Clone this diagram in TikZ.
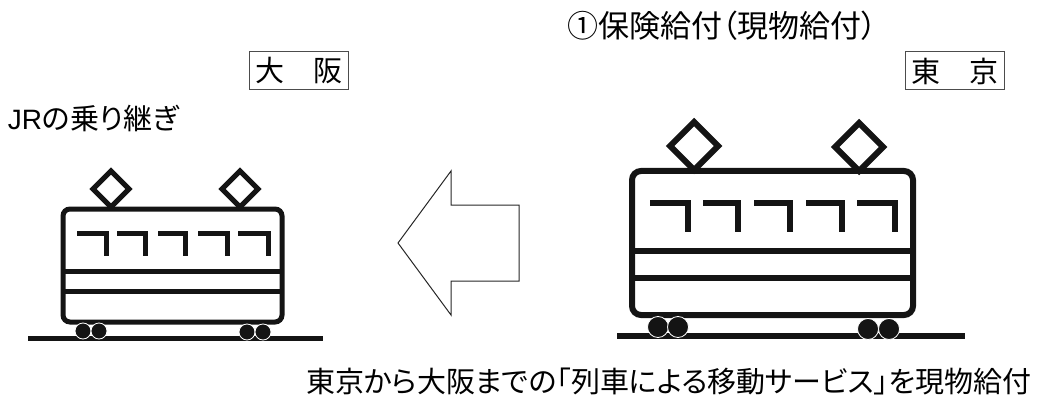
\documentclass[tikz,border=0pt]{standalone}
\usepackage{fontspec}
\setmainfont{Noto Sans CJK JP}[RawFeature={+palt}]
\newfontfamily\latinf{Liberation Sans}
\tikzset{
  x=1pt,y=-1pt,
  lbl/.style={inner sep=0pt,outer sep=0pt,anchor=base west,font=\fontsize{29}{30}\selectfont,text=black},
  stationbox/.style={draw=black!70,line width=1pt,minimum width=99pt,minimum height=38pt,inner sep=0pt,font=\fontsize{29}{30}\selectfont},
  smallcar/.style={line width=5pt,line cap=butt,line join=miter,draw=black!92},
  bigcar/.style={line width=6pt,line cap=butt,line join=miter,draw=black!92},
  wheel/.style={fill=black!92,draw=white,line width=0.8pt},
  bigarrow/.style={draw=black!85,line width=1pt,line join=miter}
}
\begin{document}
\begin{tikzpicture}
\useasboundingbox (0,0) rectangle (1038,398);
% text
\node[lbl,font=\fontsize{31}{32}\selectfont] (title) at (567,38) {①保険給付（現物給付）};
\node[stationbox] (osaka) at (298.5,71) {大\hspace{1em}阪};
\node[stationbox] (tokyo) at (955,71) {東\hspace{1em}京};
\node[lbl] (jr) at (8,130) {{\latinf\fontsize{28}{28}\selectfont JR}の乗り継ぎ};
\node[lbl] (bottom) at (306,392) {東京から大阪までの「列車による移動サービス」を現物給付};
% left train
\draw[smallcar] (28,338) -- (323,338);
\draw[smallcar,rounded corners=7pt] (63,209) rectangle (282,322);
\draw[smallcar] (63,271) -- (282,271) (63,291) -- (282,291);
\foreach \a/\b in {77/106,117/145,158/185,198/227,238/268}
  \draw[smallcar] (\a,233) -- (\b,233) -- (\b,256);
\draw[smallcar] (111,171) -- (129,189) -- (111,207) -- (93,189) -- cycle;
\draw[smallcar] (240,171) -- (258,189) -- (240,207) -- (222,189) -- cycle;
\foreach \c/\d in {83/331,99/331,247/332,263/332}
  \draw[wheel] (\c,\d) circle (8pt);
% right train
\draw[bigcar] (617,336) -- (965,336);
\draw[bigcar,rounded corners=9pt] (632,171) rectangle (913,315);
\draw[bigcar] (632,251) -- (913,251) (632,278) -- (913,278);
\foreach \a/\b in {650/688,703/738,754/790,806/842,857/895}
  \draw[bigcar] (\a,203) -- (\b,203) -- (\b,232);
\draw[bigcar] (694,122) -- (718,146) -- (694,170) -- (670,146) -- cycle;
\draw[bigcar] (859,123) -- (883,147) -- (859,171) -- (835,147) -- cycle;
\foreach \c/\d in {658/327,678/327,868/329,889/329}
  \draw[wheel] (\c,\d) circle (10.5pt);
% arrow
\draw[bigarrow] (398,243) -- (451,171) -- (451,205) -- (519,205) -- (519,281) -- (451,281) -- (451,315) -- cycle;
\end{tikzpicture}
\end{document}
